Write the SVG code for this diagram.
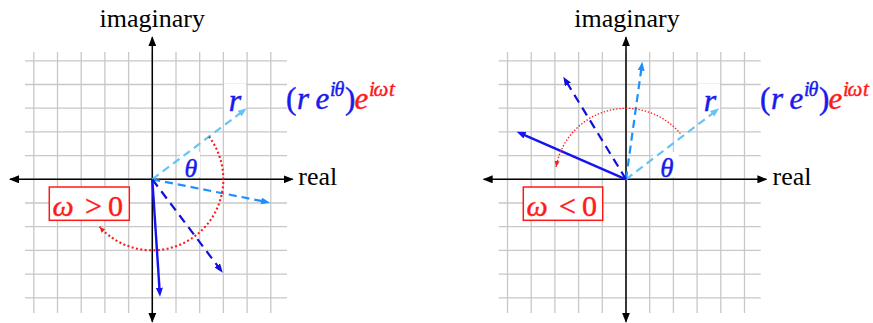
<svg xmlns="http://www.w3.org/2000/svg" xmlns:xlink="http://www.w3.org/1999/xlink" width="873" height="323" viewBox="0 0 873 323">
<style>
.grid{stroke:#c8c8c8;stroke-width:1.3;fill:none}
.axis{stroke:#000;stroke-width:1.5;fill:none}
text{font-family:"Liberation Serif","Times New Roman",serif}
.lab{font-size:26px;fill:#000}
.it{font-style:italic}
.blue{fill:#1a1aee;stroke:#1a1aee;stroke-width:0.45}
.red{fill:#ff1a1a;stroke:#ff1a1a;stroke-width:0.45}
.v1{stroke:#66c4f2;stroke-width:2.2;stroke-dasharray:8 5;fill:none}
.v2{stroke:#1e8fff;stroke-width:2.2;stroke-dasharray:8 5;fill:none}
.v3{stroke:#1010dd;stroke-width:2.2;stroke-dasharray:9 6;fill:none}
.v4{stroke:#1414f0;stroke-width:2.4;fill:none}
.arcL{stroke:#ff1a1a;stroke-width:2.1;stroke-dasharray:2 2.4;fill:none}
.arcR{stroke:#ff1a1a;stroke-width:1.3;stroke-dasharray:1.4 1.8;fill:none}
.wbox{fill:#fff;stroke:none}
.obox{fill:#fff;stroke:#ff1a1a;stroke-width:1.5}
</style>
<defs>
<marker id="ax" markerUnits="userSpaceOnUse" markerWidth="10" markerHeight="8" refX="9" refY="4" orient="auto-start-reverse"><path d="M0,0 L10,4 L0,8 z" fill="#000"/></marker>
<marker id="m1" markerUnits="userSpaceOnUse" markerWidth="10" markerHeight="8" refX="3" refY="3.5" orient="auto"><path d="M0,0 L9,3.5 L0,7 z" fill="#66c4f2"/></marker>
<marker id="m2" markerUnits="userSpaceOnUse" markerWidth="10" markerHeight="8" refX="3" refY="3.5" orient="auto"><path d="M0,0 L9,3.5 L0,7 z" fill="#1e8fff"/></marker>
<marker id="m3" markerUnits="userSpaceOnUse" markerWidth="10" markerHeight="8" refX="3" refY="3.5" orient="auto"><path d="M0,0 L9,3.5 L0,7 z" fill="#1010dd"/></marker>
<marker id="m4" markerUnits="userSpaceOnUse" markerWidth="10" markerHeight="8" refX="3" refY="3.5" orient="auto"><path d="M0,0 L9,3.5 L0,7 z" fill="#1414f0"/></marker>
<marker id="mr" markerUnits="userSpaceOnUse" markerWidth="8" markerHeight="6" refX="6" refY="2.5" orient="auto"><path d="M0,0 L6,2.5 L0,5 z" fill="#ff1a1a"/></marker>
<g id="gridlines">
<path class="grid" d="M33.8,52V313M57.5,52V313M81.2,52V313M104.9,52V313M128.6,52V313M152.3,52V313M176,52V313M199.7,52V313M223.4,52V313M247.1,52V313M270.8,52V313M25,60.8H287M25,84.5H287M25,108.2H287M25,131.9H287M25,155.6H287M25,179.3H287M25,203H287M25,226.7H287M25,250.4H287M25,274.1H287M25,297.8H287"/>
</g>
</defs>

<g id="panel-left">
<use xlink:href="#gridlines" href="#gridlines"/>
<rect class="wbox" x="224" y="84" width="22" height="27"/>
<rect class="wbox" x="180" y="152" width="20" height="25"/>
<g id="axes-left">
<path class="axis" d="M10,179.3H292.7" marker-start="url(#ax)" marker-end="url(#ax)"/>
<path class="axis" d="M152.3,321.7V37.3" marker-start="url(#ax)" marker-end="url(#ax)"/>
</g>
<g id="connectors-left">
<path class="v1" d="M152.3,179.3L241.9,111.9" marker-end="url(#m1)"/>
<path class="v2" d="M152.3,179.3L264.1,201.5" marker-end="url(#m2)"/>
<path class="v3" d="M152.3,179.3L219.1,267.9" marker-end="url(#m3)"/>
<path class="v4" d="M152.3,179.3L159.6,290.7" marker-end="url(#m4)"/>
<path class="arcL" d="M209,136.6A71,71 0 0 1 99.5,226.8" marker-end="url(#mr)"/>
</g>
<g id="labels-left">
<text class="lab" x="152.3" y="27" text-anchor="middle">imaginary</text>
<text class="lab" x="298.3" y="184.5">real</text>
<text class="it blue" x="235" y="111" font-size="32" text-anchor="middle">r</text>
<text class="it blue" x="191" y="176.5" font-size="26" text-anchor="middle">θ</text>
<g id="omega-pos">
<rect class="obox" x="49.3" y="187" width="80" height="33.3"/>
<text class="red" y="216" font-size="30"><tspan class="it" x="52.5">ω</tspan> <tspan x="85">&gt;</tspan> <tspan x="108">0</tspan></text>
</g>
<text y="108.5" font-size="31"><tspan class="blue" x="286">(</tspan><tspan class="blue it" x="297">r</tspan> <tspan class="blue it" x="315.5">e</tspan><tspan class="blue it" x="330 334.5" y="96" font-size="20">iθ</tspan><tspan class="blue" x="345" y="108.5">)</tspan><tspan class="red it" x="354.5">e</tspan><tspan class="red it" x="369 373.5 389" y="96" font-size="21">iωt</tspan></text>
</g>
</g>

<g id="panel-right">
<use xlink:href="#gridlines" href="#gridlines" transform="translate(473.7,0)"/>
<rect class="wbox" x="698" y="84" width="22" height="27"/>
<rect class="wbox" x="653" y="152" width="26" height="25"/>
<g id="axes-right">
<path class="axis" d="M483.7,179.3H766.4" marker-start="url(#ax)" marker-end="url(#ax)"/>
<path class="axis" d="M626,321.7V37.3" marker-start="url(#ax)" marker-end="url(#ax)"/>
</g>
<g id="connectors-right">
<path class="v1" d="M626,179.3L714.5,111.9" marker-end="url(#m1)"/>
<path class="v2" d="M626,179.3L641.5,67.6" marker-end="url(#m2)"/>
<path class="v3" d="M626,179.3L566.4,81.8" marker-end="url(#m3)"/>
<path class="v4" d="M626,179.3L522.2,134.1" marker-end="url(#m4)"/>
<path class="arcR" d="M680.4,133.7A71,71 0 0 0 556.1,167" marker-end="url(#mr)"/>
</g>
<g id="labels-right">
<text class="lab" x="627" y="27" text-anchor="middle">imaginary</text>
<text class="lab" x="772.5" y="184.5">real</text>
<text class="it blue" x="710" y="111" font-size="32" text-anchor="middle">r</text>
<text class="it blue" x="667" y="176.5" font-size="27" text-anchor="middle">θ</text>
<g id="omega-neg">
<rect class="obox" x="523.3" y="187" width="79.4" height="33.3"/>
<text class="red" y="216" font-size="30"><tspan class="it" x="526.5">ω</tspan> <tspan x="559">&lt;</tspan> <tspan x="582">0</tspan></text>
</g>
<text y="108.5" font-size="31"><tspan class="blue" x="760">(</tspan><tspan class="blue it" x="771">r</tspan> <tspan class="blue it" x="789.5">e</tspan><tspan class="blue it" x="804 808.5" y="96" font-size="20">iθ</tspan><tspan class="blue" x="819" y="108.5">)</tspan><tspan class="red it" x="828.5">e</tspan><tspan class="red it" x="843 847.5 863" y="96" font-size="21">iωt</tspan></text>
</g>
</g>
</svg>
